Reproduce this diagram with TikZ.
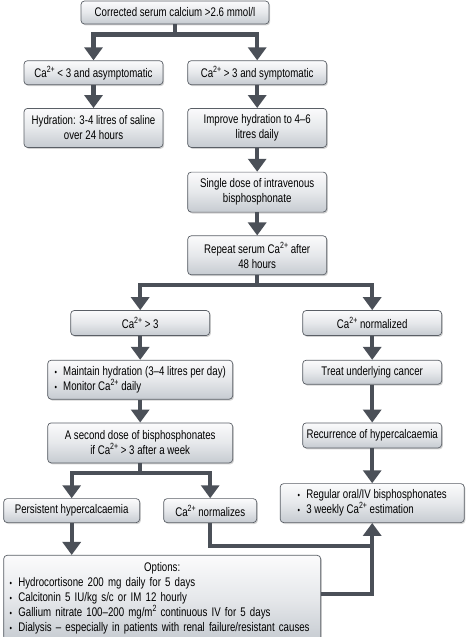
\documentclass[tikz,border=0pt]{standalone}
\usepackage{fontspec}
\setmainfont[FakeStretch=0.775]{Liberation Sans}
\usepackage{xcolor}
\usepackage{tikz}
\usetikzlibrary{arrows.meta, positioning, shadows}

\definecolor{flowgray}{HTML}{4B5058}
\definecolor{edgegray}{HTML}{5A5F66}
\definecolor{shadetop}{HTML}{FBFBFC}
\definecolor{shadebot}{HTML}{C6CBD1}

\newcommand{\sups}[1]{\raisebox{0.4em}{\fontsize{9}{9}\selectfont #1}}
\newcommand{\caion}{Ca\sups{2+}}
\newcommand{\itm}{{\small\textbullet}\enspace}

\begin{document}
\begin{tikzpicture}[
  box/.style={rectangle, draw=edgegray, line width=0.7pt, rounded corners=3.5pt,
              minimum width=139pt, minimum height=24pt, inner sep=2pt, align=center,
              top color=shadetop, bottom color=shadebot, middle color=shadetop!60!shadebot,
              font=\fontsize{12.5}{15}\selectfont,
              drop shadow={shadow xshift=1.2pt, shadow yshift=-1.4pt, opacity=0.35}},
  link/.style={line width=4.3pt, flowgray},
  arrow/.style={link, -{Triangle[width=18pt, length=13pt]}}
]
\useasboundingbox (0,0) rectangle (468pt,-637pt);

\node (start)   [box, minimum width=188pt, minimum height=23pt] at (175pt,-12.5pt)
                {Corrected serum calcium >2.6 mmol/l};
\node (asym)    [box, below=36pt of start, xshift=-81.5pt] {\caion{} < 3 and asymptomatic};
\node (symp)    [box, right=24pt of asym]                  {\caion{} > 3 and symptomatic};
\node (saline)  [box, below=23pt of asym, minimum height=39pt]  {Hydration: 3-4 litres of saline\\over 24 hours};
\node (improve) [box, below=23pt of symp, minimum height=39pt]  {Improve hydration to 4–6\\litres daily};
\node (single)  [box, below=24pt of improve, minimum height=40pt] {Single dose of intravenous\\bisphosphonate};
\node (recheck) [box, below=23pt of single, minimum height=39pt] {Repeat serum \caion{} after\\48 hours};

\node (high)    [box, below=35pt of recheck, xshift=-117pt, minimum height=25pt] {\caion{} > 3};
\node (normed)  [box, below=35pt of recheck, xshift=115pt, minimum height=25pt]  {\caion{} normalized};
\node (maintain)[box, below=24pt of high, minimum width=185pt, minimum height=39pt, align=left]
                {\itm Maintain hydration (3–4 litres per day)\\\itm Monitor \caion{} daily};
\node (second)  [box, below=23pt of maintain, minimum width=185pt, minimum height=40pt]
                {A second dose of bisphosphonates\\if \caion{} > 3 after a week};
\node (treat)   [box, below=24pt of normed]                {Treat underlying cancer};
\node (recur)   [box, below=38pt of treat, minimum height=25pt] {Recurrence of hypercalcaemia};
\node (regular) [box, below=35pt of recur, minimum width=184pt, minimum height=39pt, align=left]
                {\itm Regular oral/IV bisphosphonates\\\itm 3 weekly \caion{} estimation};

\node (persist) [box, below=35pt of second, xshift=-68.5pt, minimum width=136pt] {Persistent hypercalcaemia};
\node (settled) [box, below=35pt of second, xshift=70pt, minimum width=93pt]     {\caion{} normalizes};
\node (options) [box, below=32pt of persist, xshift=90.5pt, minimum width=317pt, minimum height=86pt,
                 align=left, text width=305pt]
                {\makebox[\hsize]{Options:}\\
                 \itm Hydrocortisone 200 mg daily for 5 days\\
                 \itm Calcitonin 5 IU/kg s/c or IM 12 hourly\\
                 \itm Gallium nitrate 100–200 mg/m\sups{2} continuous IV for 5 days\\
                 \itm Dialysis – especially in patients with renal failure/resistant causes};

% forks
\draw [link] (start.south) -- ++(0,-10pt) coordinate (fork1);
\draw [arrow] (fork1) -| (asym.north);
\draw [arrow] (fork1) -| (symp.north);
\draw [link] (recheck.south) -- ++(0,-10pt) coordinate (fork2);
\draw [arrow] (fork2) -| (high.north);
\draw [arrow] (fork2) -| (normed.north);
\draw [link] (second.south) -- ++(0,-10pt) coordinate (fork3);
\draw [arrow] (fork3) -| (persist.north);
\draw [arrow] (fork3) -| (settled.north);

% straight steps
\draw [arrow] (asym) -- (saline);
\draw [arrow] (symp) -- (improve);
\draw [arrow] (improve) -- (single);
\draw [arrow] (single) -- (recheck);
\draw [arrow] (high) -- (maintain);
\draw [arrow] (maintain) -- (second);
\draw [arrow] (normed) -- (treat);
\draw [arrow] (treat) -- (recur);
\draw [arrow] (recur) -- (regular);
\draw [arrow] (persist) -- (persist |- options.north);

% merge into regular follow-up
\coordinate (merge) at ([yshift=-23pt]regular.south);
\draw [link] (settled.south) |- (merge);
\draw [arrow] ([yshift=4pt]options.east) -| (regular.south);
\end{tikzpicture}
\end{document}
